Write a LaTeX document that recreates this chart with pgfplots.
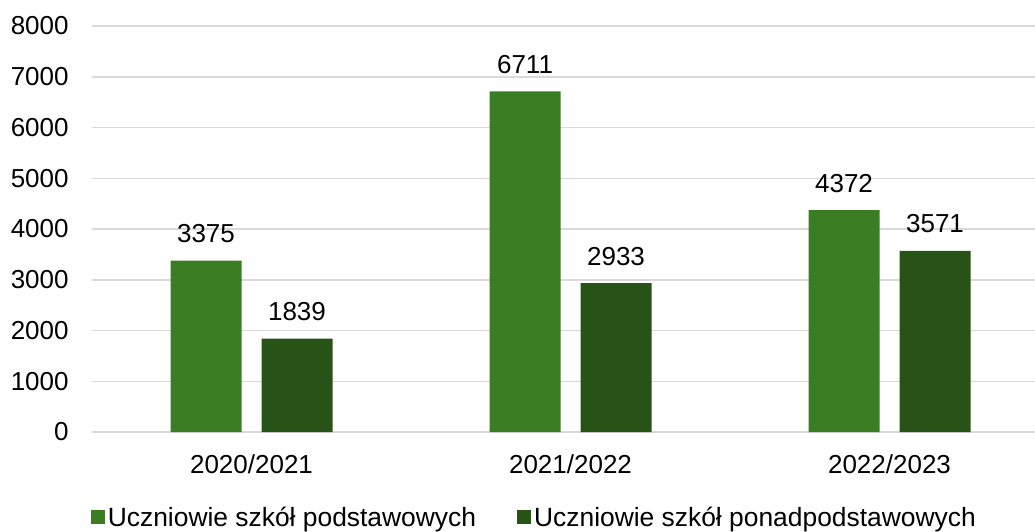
\documentclass[border=0pt]{standalone}
\usepackage{fontspec}
\setmainfont{Liberation Sans}
\usepackage{pgfplots}
\pgfplotsset{compat=1.18}
\definecolor{lg}{HTML}{3B7D23}
\definecolor{dg}{HTML}{275317}
\definecolor{gridc}{HTML}{D9D9D9}
\begin{document}
\fontsize{13}{15.6}\selectfont
\begin{tikzpicture}
\begin{axis}[
  at={(0,0)}, anchor=south west,
  scale only axis, width=471.5pt, height=203pt,
  xmin=-0.5, xmax=2.456, ymin=0, ymax=8000,
  ybar=10pt, bar width=35.5pt,
  axis line style={draw=none},
  major tick length=0pt,
  ytick={0,1000,...,8000},
  ymajorgrids, major grid style={draw=gridc, line width=0.75pt},
  xtick={0,1,2}, xticklabels={2020/2021,2021/2022,2022/2023},
  scaled y ticks=false,
  /pgf/number format/1000 sep={},
  /pgf/number format/assume math mode=true,
  yticklabel style={anchor=east, inner sep=0pt, xshift=-11.5pt},
  xticklabel style={anchor=base, inner sep=0pt, yshift=-20.5pt},
  nodes near coords,
  every node near coord/.append style={anchor=base, inner sep=0pt, yshift=9pt, text=black},
  legend columns=2,
  legend style={draw=none, at={(0.468,-0.209)}, anchor=center,
    font=\fontsize{13.2}{16}\selectfont,
    /tikz/every even column/.append style={column sep=20.5pt},
    nodes={inner sep=0pt, text depth=0pt}, row sep=0pt},
  legend cell align=left,
]
\addplot[fill=lg, draw=none, legend image code/.code={\fill[lg] (0pt,-3.5pt) rectangle (7pt,3.5pt); \path (8.5pt,0pt);}]
  coordinates {(0,3375) (1,6711) (2,4372)};
\addlegendentry{Uczniowie szkół podstawowych}
\addplot[fill=dg, draw=none, legend image code/.code={\fill[dg] (0pt,-3.5pt) rectangle (7pt,3.5pt); \path (8.5pt,0pt);}]
  coordinates {(0,1839) (1,2933) (2,3571)};
\addlegendentry{Uczniowie szkół ponadpodstawowych}
\end{axis}
\pgfresetboundingbox
\path[use as bounding box] (-46pt,-49.5pt) rectangle (471.5pt,216pt);
\end{tikzpicture}
\end{document}
